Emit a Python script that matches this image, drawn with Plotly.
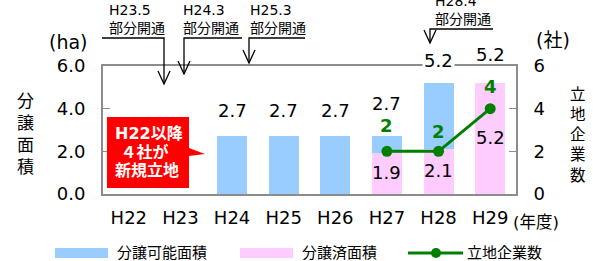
import plotly.graph_objects as go

# ---- data ----
years = ["H22", "H23", "H24", "H25", "H26", "H27", "H28", "H29"]
area_available = [None, None, 2.7, 2.7, 2.7, 2.7, 5.2, 5.2]   # 分譲可能面積 (ha)
area_sold = [None, None, None, None, None, 1.9, 2.1, 5.2]      # 分譲済面積 (ha)
company_years = ["H27", "H28", "H29"]
company_count = [2, 2, 4]                                      # 立地企業数 (社)
left_ticks = [0, 2, 4, 6]
left_ticktext = ["0.0", "2.0", "4.0", "6.0"]
right_ticks = [0, 2, 4, 6]
openings = [("H23.5", "部分開通"), ("H24.3", "部分開通"), ("H25.3", "部分開通"), ("H28.4", "部分開通")]

# ---- styling ----
FONT = "DejaVu Sans, Noto Sans CJK JP, sans-serif"
BLUE = "#99CCFF"
PINK = "#FFCCFF"
GREEN = "#008000"
FRAME = "#8c8c8c"
W, H = 593, 261
L, R, T, Bm = 103, 77, 66, 67
PW, PH = W - L - R, H - T - Bm
BOT = H - Bm

def P(px, py):
    return (px - L) / PW, (BOT - py) / PH

avail_shift = [None, None, 26, 26, 26, 33, 23, 29]
count_shift = [26, 20, 22]

fig = go.Figure()
fig.add_trace(go.Bar(x=years, y=area_available, marker=dict(color=BLUE, line=dict(width=0)),
                     width=0.58, name="分譲可能面積", showlegend=False, hoverinfo="skip"))
fig.add_trace(go.Bar(x=years, y=area_sold, marker=dict(color=PINK, line=dict(width=0)),
                     width=0.58, name="分譲済面積", showlegend=False, hoverinfo="skip"))
fig.add_trace(go.Scatter(x=company_years, y=company_count, yaxis="y2", mode="lines+markers",
                         line=dict(color=GREEN, width=3), marker=dict(color=GREEN, size=11),
                         name="立地企業数", showlegend=False, hoverinfo="skip"))

ann = []
# value labels
for i, (yr, v) in enumerate(zip(years, area_available)):
    if v is None:
        continue
    a = dict(x=yr, y=v, xref="x", yref="y", text=f"{v}", showarrow=False,
             yshift=avail_shift[i], font=dict(size=18, color="black", family=FONT))
    if yr == "H28":
        a["bgcolor"] = "white"
    ann.append(a)
for yr, v in zip(years, area_sold):
    if v is None:
        continue
    ann.append(dict(x=yr, y=v / 2, xref="x", yref="y", text=f"{v}", showarrow=False,
                    yshift=1, font=dict(size=18, color="black", family=FONT)))
for i, (yr, v) in enumerate(zip(company_years, company_count)):
    ann.append(dict(x=yr, y=v, xref="x", yref="y2", text=f"<b>{v}</b>", showarrow=False,
                    yshift=count_shift[i], font=dict(size=18, color=GREEN, family=FONT)))

def txt(px, py, text, size, xanchor="center", yanchor="middle", color="black", align="center"):
    x, y = P(px, py)
    ann.append(dict(x=x, y=y, xref="paper", yref="paper", text=text, showarrow=False,
                    xanchor=xanchor, yanchor=yanchor, align=align,
                    font=dict(size=size, color=color, family=FONT)))

# axis titles / units
txt(68, 42, "(ha)", 19)
txt(553, 40, "(社)", 19)
txt(25, 134, "分<br>譲<br>面<br>積", 17)
txt(578, 135, "立<br>地<br>企<br>業<br>数", 15.5)
txt(536, 222, "(年度)", 16.5)

shapes = []
def path(points, color="black", width=1.3, fill=None):
    d = ""
    for k, (px, py) in enumerate(points):
        x, y = P(px, py)
        d += ("M" if k == 0 else " L") + f" {x:.5f},{y:.5f}"
    s = dict(type="path", path=d + (" Z" if fill else ""), xref="paper", yref="paper",
             line=dict(color=color, width=width))
    if fill:
        s["fillcolor"] = fill
    shapes.append(s)

# opening annotations with arrows
open_text_pos = [(107, 19), (181, 19), (248, 19), (433, 10)]
arrow_paths = [
    [(102, 38), (164, 38), (164, 84)],
    [(242, 38), (184, 38), (184, 74)],
    [(305, 38), (249, 38), (249, 63)],
    [(493, 29), (430, 29), (430, 43)],
]
for (a, b), (px, py), pts in zip(openings, open_text_pos, arrow_paths):
    txt(px, py, f"{a}<br>{b}", 14, xanchor="left", align="left")
    path(pts)
    tx, ty = pts[-1]
    path([(tx - 6, ty - 13), (tx, ty), (tx + 6, ty - 13)])

# red callout
path([(107, 117), (189, 117), (189, 148), (205, 154), (189, 156), (189, 188), (107, 188)],
     color="#FF0000", width=0, fill="#FF0000")
callout_lines = ["H22以降", "&nbsp;４社が", "新規立地"]
for line, py in zip(callout_lines, [133, 152, 170]):
    txt(113, py, f"<b>{line}</b>", 16, xanchor="left", color="white", align="left")

# manual legend
LY = 253
def rect(x0, x1, y0, y1, color):
    a0, b0 = P(x0, y0)
    a1, b1 = P(x1, y1)
    shapes.append(dict(type="rect", x0=a0, x1=a1, y0=b0, y1=b1, xref="paper", yref="paper",
                       line=dict(width=0), fillcolor=color))
rect(55, 108, LY - 5, LY + 5, BLUE)
txt(115, LY, "分譲可能面積", 15, xanchor="left")
rect(240, 293, LY - 5, LY + 5, PINK)
txt(300, LY, "分譲済面積", 15, xanchor="left")
path([(408, LY), (463, LY)], color=GREEN, width=3)
cx, cy = P(436, LY)
shapes.append(dict(type="circle", xref="paper", yref="paper", xsizemode="pixel", ysizemode="pixel",
                   xanchor=cx, yanchor=cy, x0=-5, x1=5, y0=-5, y1=5,
                   fillcolor=GREEN, line=dict(color=GREEN, width=0)))
txt(465, LY, "立地企業数", 15, xanchor="left")

fig.update_layout(
    width=W, height=H,
    margin=dict(l=L, r=R, t=T, b=Bm, pad=0),
    paper_bgcolor="white", plot_bgcolor="white",
    barmode="overlay", bargap=0,
    hovermode=False,
    font=dict(family=FONT, size=18, color="black"),
    xaxis=dict(type="category", range=[-0.5, 7.5], showline=True, linecolor=FRAME, linewidth=2,
               mirror=True, ticks="", showgrid=False, zeroline=False,
               tickfont=dict(size=18, family=FONT, color="black"), ticklabelstandoff=6),
    yaxis=dict(range=[0, 6], tickvals=left_ticks, ticktext=left_ticktext, showline=True,
               linecolor=FRAME, linewidth=2, ticks="inside", ticklen=7, tickcolor=FRAME,
               tickwidth=1.5, showgrid=False, zeroline=False, ticklabelstandoff=12,
               tickfont=dict(size=18, family=FONT, color="black")),
    yaxis2=dict(range=[0, 6], tickvals=right_ticks, overlaying="y", side="right", showline=True,
                linecolor=FRAME, linewidth=2, ticks="inside", ticklen=7, tickcolor=FRAME,
                tickwidth=1.5, showgrid=False, zeroline=False, ticklabelstandoff=12,
                tickfont=dict(size=18, family=FONT, color="black")),
    annotations=ann,
    shapes=shapes,
    showlegend=False,
)

fig.write_html("out.html", config={"displayModeBar": False, "staticPlot": True},
               post_script="document.body.style.margin='0';document.body.style.overflow='hidden';")
